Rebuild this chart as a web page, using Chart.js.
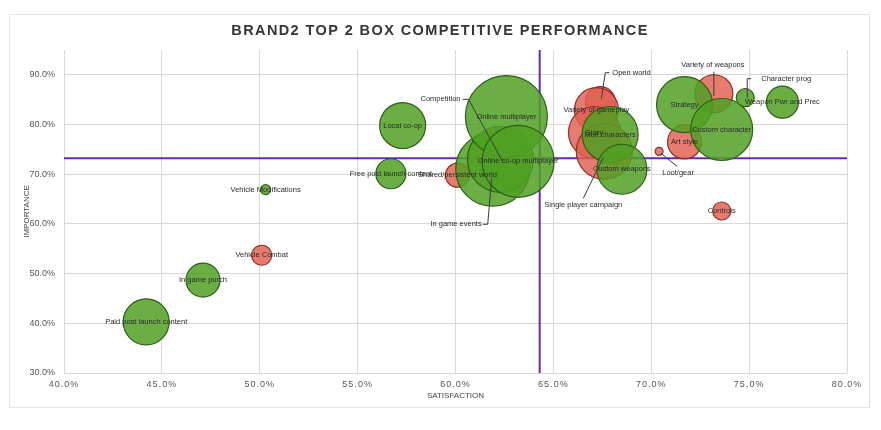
<!DOCTYPE html>
<html>
<head>
<meta charset="utf-8">
<title>Brand2 Top 2 Box Competitive Performance</title>
<script src="https://cdn.jsdelivr.net/npm/chart.js@4.4.1/dist/chart.umd.min.js"></script>
<style>
  html, body { margin: 0; padding: 0; background: #fff; }
  #wrap { width: 881px; height: 430px; }
</style>
</head>
<body>
<div id="wrap"><canvas id="bubbleChart" width="881" height="430"></canvas></div>
<script>
// Data: satisfaction (x) vs importance (y), bubble size, ahead/behind
const chartTitle = 'BRAND2 TOP 2 BOX COMPETITIVE PERFORMANCE';
const attributes = [
  'Paid post launch content', 'In game purch', 'Vehicle Combat', 'Vehicle Modifications',
  'Local co-op', 'Free post launch content', 'Shared/persistent world', 'In game events',
  'Competition', 'Online multiplayer', 'Online co-op multiplayer', 'Open world',
  'Variety of gameplay', 'Story', 'Single player campaign', 'Mult characters',
  'Custom weapons', 'Loot/gear', 'Art style', 'Strategy', 'Variety of weapons',
  'Custom character', 'Character prog', 'Weapon Pwr and Prec', 'Controls'
];
const satisfaction = [44.2, 47.1, 50.1, 50.3, 57.3, 56.7, 60.1, 61.9, 62.3, 62.6, 63.2, 67.4,
                      67.2, 67.1, 67.6, 67.9, 68.5, 70.4, 71.7, 71.7, 73.2, 73.6, 74.8, 76.7, 73.6];
const importance   = [40.3, 48.7, 53.7, 66.9, 79.8, 70.1, 69.8, 71.0, 73.0, 81.6, 72.6, 84.6,
                      83.0, 78.4, 74.6, 78.0, 71.0, 74.6, 76.5, 84.0, 86.2, 79.0, 85.4, 84.5, 62.6];
const bubbleSize   = [23, 17, 10, 5, 23, 15, 12, 37, 33, 41, 36, 15,
                      22, 26, 28, 28, 25, 4, 17, 28, 19, 31, 9, 16, 9];
const status = ['ahead', 'ahead', 'behind', 'ahead', 'ahead', 'ahead', 'behind', 'ahead',
                'ahead', 'ahead', 'ahead', 'behind', 'behind', 'behind', 'behind', 'ahead',
                'ahead', 'behind', 'behind', 'ahead', 'behind', 'ahead', 'ahead', 'ahead', 'behind'];
const xTicks = [40, 45, 50, 55, 60, 65, 70, 75, 80];
const yTicks = [30, 40, 50, 60, 70, 80, 90];
const avgSatisfaction = 64.3;
const avgImportance = 73.2;

const FONT = '"Liberation Sans", Arial, sans-serif';

// labels that sit away from their bubble, offsets in px from the bubble centre
const leaders = {
  'Open world':             { dx: 12,  dy: -29, align: 'left',   path: [[9, -29], [5, -29], [1, -3]] },
  'Variety of weapons':     { dx: -1,  dy: -29, align: 'center', path: [[0, -22], [0, 2]] },
  'Character prog':         { dx: 16,  dy: -19, align: 'left',   path: [[6, -19], [2, -19], [2, 0]] },
  'Competition':            { dx: -40, dy: -60, align: 'right',  path: [[-38, -60], [-32, -60], [2, 2]] },
  'In game events':         { dx: -11, dy: 55,  align: 'right',  path: [[-10, 55], [-5, 55], [-1, 9]] },
  'Single player campaign': { dx: -21, dy: 54,  align: 'center', path: [[-21, 47], [-1, 6]] },
  'Loot/gear':              { dx: 19,  dy: 22,  align: 'center', path: [[18, 15], [2, 2]] }
};

function pointsFor(key) {
  return attributes
    .map((name, i) => ({ name: name, x: satisfaction[i], y: importance[i], r: bubbleSize[i], s: status[i] }))
    .filter(p => p.s === key);
}

const frameAndTitle = {
  id: 'frameAndTitle',
  beforeDraw(chart) {
    const ctx = chart.ctx;
    ctx.save();
    ctx.fillStyle = '#fff';
    ctx.fillRect(0, 0, chart.width, chart.height);
    ctx.strokeStyle = '#e4e4e4';
    ctx.lineWidth = 1;
    ctx.strokeRect(9.5, 14.5, 860, 393);
    ctx.fillStyle = '#353535';
    ctx.font = 'bold 14.5px ' + FONT;
    ctx.letterSpacing = '1.4px';
    ctx.textAlign = 'center';
    ctx.textBaseline = 'middle';
    ctx.fillText(chartTitle, 440, 31);
    ctx.restore();

    // x tick labels are letter-spaced in the original
    const sc = chart.scales.x;
    if (sc && !sc.__spaced) {
      const base = sc.drawLabels;
      sc.drawLabels = function (area) {
        this.ctx.save();
        this.ctx.letterSpacing = '1px';
        base.call(this, area);
        this.ctx.restore();
      };
      sc.__spaced = true;
    }
  }
};

const avgLines = {
  id: 'avgLines',
  beforeDatasetsDraw(chart) {
    const { ctx, chartArea: a, scales: { x, y } } = chart;
    const px = x.getPixelForValue(avgSatisfaction);
    const py = y.getPixelForValue(avgImportance);
    ctx.save();
    ctx.strokeStyle = '#6a2aa8';
    ctx.lineWidth = 2;
    ctx.beginPath();
    ctx.moveTo(a.left, py);
    ctx.lineTo(a.right, py);
    ctx.moveTo(px, a.top);
    ctx.lineTo(px, a.bottom);
    ctx.stroke();
    ctx.restore();
  }
};

const bubbleLabels = {
  id: 'bubbleLabels',
  afterDatasetsDraw(chart) {
    const ctx = chart.ctx;
    ctx.save();
    ctx.font = '7.5px ' + FONT;
    ctx.textBaseline = 'middle';
    ctx.fillStyle = '#2b2b2b';
    chart.data.datasets.forEach((ds, di) => {
      const meta = chart.getDatasetMeta(di);
      meta.data.forEach((el, i) => {
        const name = ds.data[i].name;
        const cx = el.x, cy = el.y;
        const ld = leaders[name];
        if (ld) {
          ctx.strokeStyle = '#3a3a3a';
          ctx.lineWidth = 1;
          ctx.beginPath();
          ld.path.forEach(([dx, dy], k) => {
            if (k === 0) ctx.moveTo(cx + dx, cy + dy);
            else ctx.lineTo(cx + dx, cy + dy);
          });
          ctx.stroke();
          ctx.textAlign = ld.align;
          ctx.fillText(name, cx + ld.dx, cy + ld.dy);
        } else {
          ctx.textAlign = 'center';
          ctx.fillText(name, cx, cy);
        }
      });
    });
    ctx.restore();
  }
};

const ctx = document.getElementById('bubbleChart').getContext('2d');
new Chart(ctx, {
  type: 'bubble',
  data: {
    datasets: [
      {
        label: 'Ahead',
        data: pointsFor('ahead'),
        backgroundColor: 'rgba(80, 160, 35, 0.85)',
        borderColor: '#2c5f18',
        borderWidth: 1.2,
        order: 0
      },
      {
        label: 'Behind',
        data: pointsFor('behind'),
        backgroundColor: 'rgba(225, 95, 80, 0.82)',
        borderColor: '#8e2f26',
        borderWidth: 1.2,
        order: 1
      }
    ]
  },
  options: {
    responsive: false,
    animation: false,
    layout: { autoPadding: false, padding: { top: 50, left: 22, right: 34, bottom: 29 } },
    plugins: {
      legend: { display: false },
      tooltip: { enabled: false },
      title: { display: false }
    },
    scales: {
      x: {
        type: 'linear',
        min: 40,
        max: 80,
        afterBuildTicks: s => { s.ticks = xTicks.map(v => ({ value: v })); },
        afterFit: s => { s.height = 28; s.paddingLeft = 0; s.paddingRight = 0; },
        grid: { color: '#d8d8d8', drawTicks: false },
        border: { display: false },
        ticks: {
          padding: 6,
          color: '#555',
          font: { size: 9, family: FONT },
          callback: v => v.toFixed(1) + '%'
        },
        title: { display: true, text: 'SATISFACTION', color: '#444', font: { size: 8, family: FONT }, padding: 0 }
      },
      y: {
        type: 'linear',
        min: 30,
        max: 95,
        afterBuildTicks: s => { s.ticks = yTicks.map(v => ({ value: v })); },
        afterFit: s => { s.width = 42; s.paddingTop = 0; s.paddingBottom = 0; },
        grid: { color: '#d8d8d8', drawTicks: false },
        border: { display: false },
        ticks: {
          padding: 9,
          color: '#555',
          font: { size: 9, family: FONT },
          callback: v => v.toFixed(1) + '%'
        },
        title: { display: true, text: 'IMPORTANCE', color: '#444', font: { size: 8, family: FONT }, padding: 0 }
      }
    }
  },
  plugins: [frameAndTitle, avgLines, bubbleLabels]
});
</script>
</body>
</html>
